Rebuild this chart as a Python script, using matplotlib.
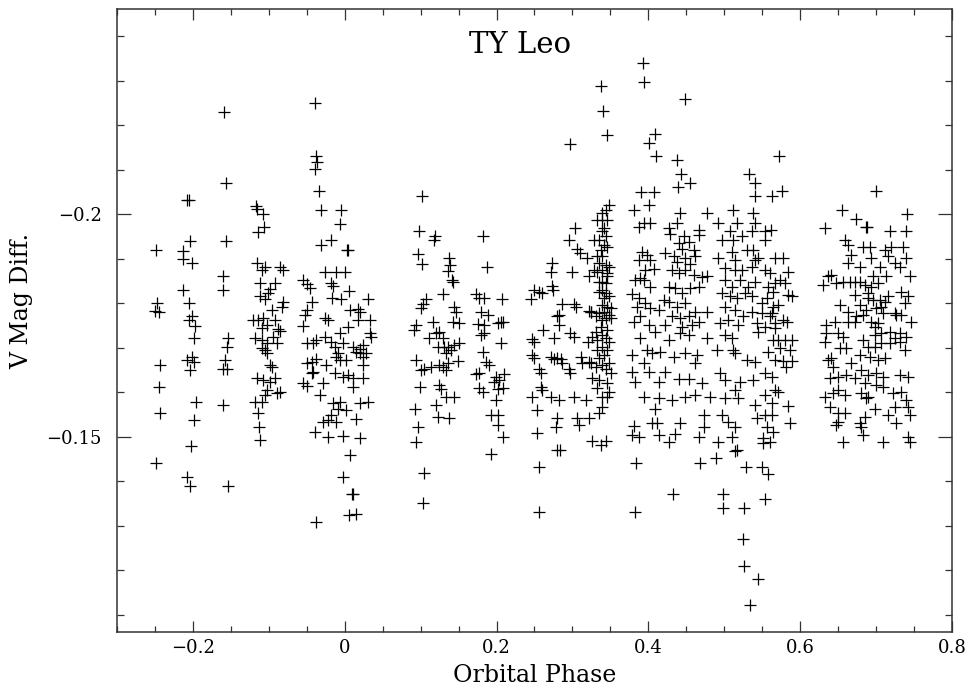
"""TY Leo light curve: V magnitude difference against orbital phase."""

import numpy as np
import matplotlib
matplotlib.use("Agg")
import matplotlib.pyplot as plt
from matplotlib.ticker import FixedLocator, MultipleLocator, FuncFormatter

# (phase, V mag diff), grouped by phase chunk
grp_m25 = [
    (-0.2486, -0.1920), (-0.2472, -0.1801), (-0.2495, -0.1783), (-0.2451, -0.1779),
    (-0.2429, -0.1661), (-0.2451, -0.1611), (-0.2438, -0.1552), (-0.2486, -0.1440),
]
grp_m21 = [
    (-0.2078, -0.2031), (-0.2058, -0.2031), (-0.2035, -0.1940), (-0.2131, -0.1918),
    (-0.2124, -0.1899), (-0.2013, -0.1890), (-0.2124, -0.1830), (-0.2058, -0.1801),
    (-0.2013, -0.1770), (-0.2058, -0.1761), (-0.1970, -0.1749), (-0.1992, -0.1721),
    (-0.2078, -0.1672), (-0.2013, -0.1678), (-0.1992, -0.1668), (-0.2044, -0.1650),
    (-0.1956, -0.1578), (-0.1983, -0.1537), (-0.2026, -0.1479), (-0.2078, -0.1410),
    (-0.2044, -0.1389),
]
grp_m16 = [
    (-0.1585, -0.2230), (-0.1566, -0.2070), (-0.1562, -0.1940), (-0.1598, -0.1861),
    (-0.1598, -0.1830), (-0.1532, -0.1721), (-0.1553, -0.1702), (-0.1576, -0.1672),
    (-0.1598, -0.1651), (-0.1553, -0.1651), (-0.1606, -0.1571), (-0.1532, -0.1389),
]
grp_m10 = [
    (-0.1173, -0.2019), (-0.1152, -0.2011), (-0.1073, -0.2000), (-0.1064, -0.1972),
    (-0.1138, -0.1959), (-0.1159, -0.1891), (-0.1050, -0.1881), (-0.1094, -0.1875),
    (-0.0853, -0.1882), (-0.0810, -0.1875), (-0.1116, -0.1845), (-0.0919, -0.1846),
    (-0.0985, -0.1831), (-0.1007, -0.1822), (-0.1116, -0.1815), (-0.1050, -0.1809),
    (-0.0810, -0.1803), (-0.0831, -0.1792), (-0.0962, -0.1785), (-0.1204, -0.1761),
    (-0.1138, -0.1762), (-0.1073, -0.1766), (-0.1028, -0.1751), (-0.1094, -0.1743),
    (-0.0919, -0.1762), (-0.0876, -0.1741), (-0.0853, -0.1738), (-0.1182, -0.1721),
    (-0.1094, -0.1717), (-0.1028, -0.1710), (-0.0941, -0.1725), (-0.0897, -0.1710),
    (-0.1094, -0.1699), (-0.1050, -0.1695), (-0.1028, -0.1687), (-0.0985, -0.1661),
    (-0.0962, -0.1657), (-0.1159, -0.1631), (-0.1073, -0.1627), (-0.0985, -0.1623),
    (-0.0919, -0.1631), (-0.1028, -0.1605), (-0.1050, -0.1593), (-0.0897, -0.1597),
    (-0.0853, -0.1601), (-0.1182, -0.1578), (-0.1094, -0.1578), (-0.1138, -0.1552),
    (-0.1125, -0.1522), (-0.1116, -0.1492),
]
grp_00 = [
    (-0.0394, -0.2250), (-0.0372, -0.2131), (-0.0364, -0.2118), (-0.0385, -0.2101),
    (-0.0341, -0.2051), (-0.0319, -0.2010), (-0.0043, -0.2010), (-0.0066, -0.1978),
    (-0.0306, -0.1931), (-0.0175, -0.1941), (0.0030, -0.1920), (0.0049, -0.1920),
    (-0.0263, -0.1871), (-0.0109, -0.1871), (0.0000, -0.1871), (-0.0175, -0.1846),
    (-0.0154, -0.1839), (0.0057, -0.1828), (-0.0548, -0.1852), (-0.0503, -0.1843),
    (-0.0460, -0.1834), (-0.0166, -0.1811), (-0.0043, -0.1809), (0.0306, -0.1810),
    (-0.0437, -0.1803), (-0.0503, -0.1785), (-0.0525, -0.1773), (-0.0219, -0.1762),
    (-0.0263, -0.1766), (0.0066, -0.1785), (0.0175, -0.1786), (0.0197, -0.1781),
    (-0.0548, -0.1749), (0.0043, -0.1747), (-0.0066, -0.1732), (0.0175, -0.1762),
    (0.0328, -0.1762), (-0.0503, -0.1711), (-0.0416, -0.1710), (-0.0372, -0.1717),
    (-0.0263, -0.1725), (-0.0175, -0.1713), (-0.0131, -0.1702), (-0.0088, -0.1687),
    (-0.0022, -0.1710), (0.0109, -0.1702), (0.0153, -0.1691), (0.0197, -0.1696),
    (0.0241, -0.1706), (0.0328, -0.1732), (0.0350, -0.1725), (-0.0503, -0.1665),
    (-0.0437, -0.1668), (-0.0372, -0.1674), (-0.0241, -0.1661), (-0.0109, -0.1680),
    (-0.0066, -0.1672), (0.0022, -0.1672), (0.0197, -0.1687), (0.0241, -0.1680),
    (0.0284, -0.1687), (0.0241, -0.1661), (-0.0437, -0.1642), (-0.0416, -0.1646),
    (-0.0131, -0.1642), (0.0043, -0.1638), (0.0109, -0.1631), (0.0241, -0.1631),
    (-0.0022, -0.1635), (-0.0548, -0.1620), (-0.0503, -0.1614), (-0.0285, -0.1620),
    (0.0109, -0.1612), (-0.0328, -0.1593), (-0.0154, -0.1575), (-0.0066, -0.1578),
    (-0.0088, -0.1563), (0.0022, -0.1560), (0.0197, -0.1575), (0.0306, -0.1578),
    (-0.0175, -0.1548), (-0.0219, -0.1537), (-0.0285, -0.1533), (-0.0109, -0.1533),
    (0.0153, -0.1539), (-0.0385, -0.1511), (-0.0219, -0.1500), (-0.0022, -0.1501),
    (0.0197, -0.1496), (0.0074, -0.1458), (-0.0022, -0.1410), (0.0096, -0.1371),
    (0.0114, -0.1371), (0.0057, -0.1323), (0.0144, -0.1327), (-0.0372, -0.1308),
]
grp_12 = [
    (0.1020, -0.2040), (0.0985, -0.1961), (0.1195, -0.1950), (0.1182, -0.1941),
    (0.0963, -0.1911), (0.1015, -0.1888), (0.1379, -0.1901), (0.1388, -0.1886),
    (0.1356, -0.1873), (0.1409, -0.1852), (0.1422, -0.1848), (0.1291, -0.1821),
    (0.1073, -0.1809), (0.1028, -0.1798), (0.1007, -0.1788), (0.1444, -0.1792),
    (0.1467, -0.1781), (0.1510, -0.1755), (0.1422, -0.1758), (0.1159, -0.1758),
    (0.0941, -0.1751), (0.0919, -0.1740), (0.1247, -0.1736), (0.1204, -0.1732),
    (0.1116, -0.1721), (0.1291, -0.1721), (0.1225, -0.1702), (0.1313, -0.1702),
    (0.1356, -0.1702), (0.1444, -0.1706), (0.1510, -0.1710), (0.1401, -0.1695),
    (0.1335, -0.1687), (0.0941, -0.1672), (0.1007, -0.1650), (0.1050, -0.1651),
    (0.1138, -0.1657), (0.1247, -0.1661), (0.1291, -0.1657), (0.1356, -0.1665),
    (0.1488, -0.1671), (0.1335, -0.1650), (0.0994, -0.1611), (0.1247, -0.1616),
    (0.1270, -0.1606), (0.1335, -0.1590), (0.1444, -0.1590), (0.0932, -0.1561),
    (0.1204, -0.1571), (0.1225, -0.1543), (0.1379, -0.1541), (0.0963, -0.1521),
    (0.0941, -0.1488), (0.1050, -0.1419), (0.1037, -0.1350),
]
grp_19 = [
    (0.1816, -0.1950), (0.1873, -0.1881), (0.1729, -0.1821), (0.1773, -0.1811),
    (0.1838, -0.1811), (0.2071, -0.1809), (0.1795, -0.1779), (0.1882, -0.1773),
    (0.1750, -0.1753), (0.1838, -0.1751), (0.2013, -0.1755), (0.2057, -0.1758),
    (0.2079, -0.1758), (0.1795, -0.1728), (0.1838, -0.1732), (0.2057, -0.1710),
    (0.1816, -0.1691), (0.1860, -0.1668), (0.1904, -0.1661), (0.1729, -0.1641),
    (0.1773, -0.1642), (0.1992, -0.1635), (0.2101, -0.1641), (0.1970, -0.1623),
    (0.2035, -0.1627), (0.1773, -0.1609), (0.1816, -0.1601), (0.2013, -0.1606),
    (0.2079, -0.1609), (0.1992, -0.1582), (0.1926, -0.1548), (0.2013, -0.1548),
    (0.2013, -0.1526), (0.2079, -0.1500), (0.1926, -0.1460),
]
grp_29 = [
    (0.2967, -0.2158), (0.3029, -0.1968), (0.2954, -0.1941), (0.3063, -0.1921),
    (0.3095, -0.1912), (0.3195, -0.1901), (0.2735, -0.1891), (0.2722, -0.1871),
    (0.2990, -0.1871), (0.3217, -0.1861), (0.2735, -0.1839), (0.2748, -0.1830),
    (0.2495, -0.1830), (0.2560, -0.1826), (0.2604, -0.1822), (0.2451, -0.1809),
    (0.2866, -0.1798), (0.3020, -0.1798), (0.3042, -0.1792), (0.2823, -0.1773),
    (0.2801, -0.1770), (0.3217, -0.1783), (0.3239, -0.1779), (0.2823, -0.1751),
    (0.2613, -0.1740), (0.2973, -0.1732), (0.3020, -0.1725), (0.2473, -0.1719),
    (0.2495, -0.1713), (0.2757, -0.1721), (0.3208, -0.1713), (0.2473, -0.1683),
    (0.2495, -0.1676), (0.2714, -0.1680), (0.2757, -0.1674), (0.2801, -0.1676),
    (0.2845, -0.1674), (0.2866, -0.1665), (0.2954, -0.1653), (0.2973, -0.1642),
    (0.3108, -0.1680), (0.3129, -0.1666), (0.3217, -0.1668), (0.3239, -0.1665),
    (0.2560, -0.1651), (0.2583, -0.1644), (0.3260, -0.1631), (0.2583, -0.1611),
    (0.2473, -0.1590), (0.2604, -0.1605), (0.2714, -0.1590), (0.2823, -0.1582),
    (0.3020, -0.1590), (0.3174, -0.1582), (0.2538, -0.1560), (0.2801, -0.1541),
    (0.3063, -0.1541), (0.3086, -0.1526), (0.3217, -0.1541), (0.2538, -0.1509),
    (0.2780, -0.1521), (0.3260, -0.1491), (0.3370, -0.1481), (0.3436, -0.1491),
    (0.2801, -0.1470), (0.2832, -0.1470), (0.2560, -0.1431), (0.2560, -0.1330),
]
grp_34 = [
    (0.3370, -0.2289), (0.3401, -0.2231), (0.3458, -0.2178), (0.3480, -0.2021),
    (0.3436, -0.2010), (0.3392, -0.2002), (0.3458, -0.1987), (0.3392, -0.1987),
    (0.3326, -0.1987), (0.3414, -0.1968), (0.3392, -0.1961), (0.3436, -0.1951),
    (0.3283, -0.1941), (0.3348, -0.1941), (0.3414, -0.1931), (0.3458, -0.1927),
    (0.3370, -0.1920), (0.3326, -0.1905), (0.3392, -0.1905), (0.3348, -0.1890),
    (0.3436, -0.1886), (0.3480, -0.1882), (0.3392, -0.1875), (0.3458, -0.1867),
    (0.3326, -0.1871), (0.3283, -0.1875), (0.3458, -0.1860), (0.3392, -0.1848),
    (0.3436, -0.1845), (0.3348, -0.1848), (0.3392, -0.1830), (0.3436, -0.1822),
    (0.3348, -0.1826), (0.3414, -0.1811), (0.3480, -0.1815), (0.3392, -0.1796),
    (0.3458, -0.1792), (0.3502, -0.1788), (0.3414, -0.1781), (0.3480, -0.1773),
    (0.3348, -0.1777), (0.3304, -0.1770), (0.3436, -0.1766), (0.3392, -0.1762),
    (0.3502, -0.1766), (0.3239, -0.1779), (0.3370, -0.1747), (0.3458, -0.1740),
    (0.3304, -0.1736), (0.3392, -0.1728), (0.3436, -0.1721), (0.3480, -0.1713),
    (0.3326, -0.1717), (0.3260, -0.1725), (0.3392, -0.1702), (0.3458, -0.1695),
    (0.3326, -0.1695), (0.3414, -0.1683), (0.3348, -0.1676), (0.3480, -0.1665),
    (0.3392, -0.1661), (0.3304, -0.1657), (0.3436, -0.1653), (0.3502, -0.1642),
    (0.3458, -0.1620), (0.3348, -0.1627), (0.3326, -0.1609), (0.3480, -0.1601),
    (0.3392, -0.1590), (0.3458, -0.1590), (0.3392, -0.1567), (0.3348, -0.1552),
]
grp_47 = [
    (0.3926, -0.2340), (0.3939, -0.2298), (0.4477, -0.2259), (0.4093, -0.2181),
    (0.4005, -0.2160), (0.4101, -0.2130), (0.4377, -0.2121), (0.4434, -0.2091),
    (0.4552, -0.2070), (0.4389, -0.2062), (0.3908, -0.2049), (0.4079, -0.2049),
    (0.4014, -0.2021), (0.3808, -0.2010), (0.5331, -0.2091), (0.5406, -0.2070),
    (0.5406, -0.2041), (0.4421, -0.2002), (0.4770, -0.2002), (0.5121, -0.2010),
    (0.5383, -0.2002), (0.4915, -0.1981), (0.5164, -0.1981), (0.3873, -0.1971),
    (0.3939, -0.1980), (0.4027, -0.1980), (0.4267, -0.1968), (0.4377, -0.1981),
    (0.4661, -0.1965), (0.5406, -0.1980), (0.5537, -0.1961), (0.5361, -0.1961),
    (0.5077, -0.1961),
    (0.4290, -0.1956), (0.4464, -0.1950), (0.4661, -0.1953), (0.4530, -0.1938),
    (0.4399, -0.1935), (0.4443, -0.1921), (0.4224, -0.1912), (0.4596, -0.1920),
    (0.4333, -0.1905), (0.4486, -0.1901), (0.4377, -0.1893), (0.4618, -0.1905),
    (0.4552, -0.1888), (0.3917, -0.1916), (0.3982, -0.1908), (0.3873, -0.1897),
    (0.4027, -0.1897), (0.3961, -0.1875), (0.4070, -0.1876), (0.3895, -0.1856),
    (0.3830, -0.1852), (0.3939, -0.1852), (0.4027, -0.1837), (0.3786, -0.1821),
    (0.3873, -0.1811), (0.3961, -0.1800), (0.3851, -0.1792), (0.4027, -0.1788),
    (0.3808, -0.1758), (0.3895, -0.1770), (0.4005, -0.1751),
    (0.4311, -0.1875), (0.4399, -0.1867), (0.4486, -0.1875), (0.4596, -0.1863),
    (0.4705, -0.1858), (0.4770, -0.1860), (0.4267, -0.1837), (0.4355, -0.1834),
    (0.4443, -0.1822), (0.4552, -0.1834), (0.4661, -0.1837), (0.4202, -0.1807),
    (0.4267, -0.1803), (0.4377, -0.1792), (0.4486, -0.1800), (0.4618, -0.1781),
    (0.4770, -0.1781), (0.4136, -0.1785), (0.4311, -0.1770), (0.4421, -0.1766),
    (0.4530, -0.1770), (0.4661, -0.1758), (0.4224, -0.1751), (0.4443, -0.1747),
    (0.4574, -0.1751),
    (0.4967, -0.1942), (0.5121, -0.1942), (0.5230, -0.1950), (0.5296, -0.1920),
    (0.5383, -0.1920), (0.5537, -0.1942), (0.4924, -0.1901), (0.5099, -0.1916),
    (0.5143, -0.1897), (0.5012, -0.1878), (0.5143, -0.1875), (0.5230, -0.1875),
    (0.5406, -0.1897), (0.5449, -0.1901), (0.5668, -0.1901), (0.5361, -0.1882),
    (0.5537, -0.1875), (0.5602, -0.1867), (0.5012, -0.1852), (0.5099, -0.1837),
    (0.5209, -0.1852), (0.5318, -0.1837), (0.5406, -0.1848), (0.5580, -0.1837),
    (0.5668, -0.1845), (0.4967, -0.1822), (0.5077, -0.1815), (0.5164, -0.1811),
    (0.5274, -0.1822), (0.5361, -0.1815), (0.5492, -0.1800), (0.5558, -0.1811),
    (0.5646, -0.1792), (0.5012, -0.1792), (0.5143, -0.1785), (0.5252, -0.1770),
    (0.5361, -0.1781), (0.5492, -0.1777), (0.5602, -0.1770), (0.4945, -0.1755),
    (0.5055, -0.1762), (0.5186, -0.1751), (0.5427, -0.1755), (0.5537, -0.1747),
    (0.5668, -0.1755),
    (0.3895, -0.1721), (0.4093, -0.1736), (0.4267, -0.1717), (0.4421, -0.1732),
    (0.4530, -0.1728), (0.4770, -0.1721), (0.5012, -0.1728), (0.5099, -0.1721),
    (0.5449, -0.1736), (0.5646, -0.1717), (0.3786, -0.1683), (0.3982, -0.1695),
    (0.4048, -0.1687), (0.4158, -0.1691), (0.4333, -0.1680), (0.4486, -0.1687),
    (0.4640, -0.1683), (0.4902, -0.1695), (0.5121, -0.1695), (0.5143, -0.1687),
    (0.5296, -0.1672), (0.5406, -0.1668), (0.5580, -0.1691), (0.5668, -0.1672),
    (0.4618, -0.1665), (0.3939, -0.1665), (0.3786, -0.1646), (0.4005, -0.1646),
    (0.4224, -0.1646), (0.4399, -0.1629), (0.4530, -0.1629), (0.4705, -0.1620),
    (0.4945, -0.1642), (0.5012, -0.1627), (0.5209, -0.1623), (0.5383, -0.1627),
    (0.5537, -0.1642), (0.5668, -0.1605), (0.3830, -0.1623), (0.4136, -0.1623),
    (0.3939, -0.1590), (0.4136, -0.1586), (0.4311, -0.1582), (0.4486, -0.1588),
    (0.4618, -0.1593), (0.4815, -0.1590), (0.5012, -0.1586), (0.5143, -0.1605),
    (0.5186, -0.1586), (0.5406, -0.1571), (0.5537, -0.1593), (0.4093, -0.1563),
    (0.4727, -0.1548), (0.4967, -0.1548), (0.5055, -0.1533), (0.5427, -0.1541),
    (0.5537, -0.1548), (0.5624, -0.1548), (0.3808, -0.1524), (0.4048, -0.1530),
    (0.4114, -0.1530), (0.4421, -0.1530), (0.4727, -0.1521), (0.5143, -0.1521),
    (0.5558, -0.1521), (0.5646, -0.1511), (0.3786, -0.1503), (0.4136, -0.1503),
    (0.4355, -0.1507), (0.4661, -0.1500), (0.4924, -0.1488), (0.5099, -0.1500),
    (0.5515, -0.1496), (0.3873, -0.1500), (0.4267, -0.1488), (0.5164, -0.1470),
    (0.5143, -0.1468), (0.5515, -0.1485), (0.3838, -0.1440), (0.4674, -0.1440),
    (0.4894, -0.1451), (0.5288, -0.1431), (0.5492, -0.1432), (0.5580, -0.1417),
    (0.4320, -0.1371), (0.4989, -0.1371), (0.5537, -0.1359), (0.4980, -0.1340),
    (0.5261, -0.1340), (0.3821, -0.1330), (0.5243, -0.1269), (0.5265, -0.1209),
    (0.5440, -0.1181), (0.5340, -0.1121),
]
grp_58 = [
    (0.5725, -0.2131), (0.5756, -0.2051), (0.5633, -0.2040), (0.5616, -0.1965),
    (0.5777, -0.1901), (0.5843, -0.1871), (0.5734, -0.1852), (0.5799, -0.1845),
    (0.5646, -0.1826), (0.5843, -0.1818), (0.5887, -0.1815), (0.5712, -0.1796),
    (0.5624, -0.1777), (0.5777, -0.1762), (0.5821, -0.1758), (0.5668, -0.1743),
    (0.5712, -0.1717), (0.5799, -0.1717), (0.5887, -0.1717), (0.5865, -0.1695),
    (0.5734, -0.1699), (0.5777, -0.1671), (0.5887, -0.1671), (0.5808, -0.1657),
    (0.5624, -0.1635), (0.5712, -0.1601), (0.5624, -0.1575), (0.5843, -0.1569),
    (0.5865, -0.1530), (0.5602, -0.1488),
]
grp_69 = [
    (0.7002, -0.2051), (0.6552, -0.2010), (0.6740, -0.1989), (0.6871, -0.1971),
    (0.6884, -0.1971), (0.7410, -0.2001), (0.6325, -0.1968), (0.7178, -0.1961),
    (0.7396, -0.1961), (0.6587, -0.1942), (0.6631, -0.1931), (0.6828, -0.1927),
    (0.6915, -0.1927), (0.7112, -0.1920), (0.7200, -0.1927), (0.7353, -0.1927),
    (0.6674, -0.1908), (0.6631, -0.1890), (0.6937, -0.1901), (0.7156, -0.1905),
    (0.7244, -0.1890), (0.7309, -0.1882), (0.7396, -0.1901), (0.6784, -0.1882),
    (0.7047, -0.1882), (0.6368, -0.1860), (0.6412, -0.1863), (0.6303, -0.1841),
    (0.6478, -0.1845), (0.6565, -0.1848), (0.6653, -0.1848), (0.6718, -0.1848),
    (0.6784, -0.1848), (0.6850, -0.1841), (0.6937, -0.1837), (0.7025, -0.1845),
    (0.6959, -0.1860), (0.7134, -0.1860), (0.7331, -0.1826), (0.7441, -0.1860),
    (0.7419, -0.1815), (0.6718, -0.1818), (0.6893, -0.1822), (0.6784, -0.1796),
    (0.6893, -0.1811), (0.6959, -0.1807), (0.7047, -0.1807), (0.7112, -0.1803),
    (0.7156, -0.1815), (0.6871, -0.1785), (0.7002, -0.1788), (0.7068, -0.1792),
    (0.6521, -0.1796), (0.6631, -0.1781), (0.6740, -0.1770), (0.6828, -0.1773),
    (0.7090, -0.1777), (0.7244, -0.1777), (0.7375, -0.1800), (0.6631, -0.1758),
    (0.6718, -0.1758), (0.6937, -0.1758), (0.6981, -0.1747), (0.7025, -0.1755),
    (0.7265, -0.1773), (0.7331, -0.1773), (0.7462, -0.1758), (0.6346, -0.1751),
    (0.6456, -0.1758), (0.6346, -0.1732), (0.6500, -0.1732), (0.6565, -0.1725),
    (0.6325, -0.1713), (0.6522, -0.1699), (0.6609, -0.1699), (0.6828, -0.1717),
    (0.6981, -0.1728), (0.7068, -0.1732), (0.7178, -0.1736), (0.7244, -0.1721),
    (0.7309, -0.1732), (0.7396, -0.1725), (0.6893, -0.1702), (0.6981, -0.1702),
    (0.7068, -0.1710), (0.7178, -0.1710), (0.7309, -0.1713), (0.7375, -0.1695),
    (0.6784, -0.1683), (0.6915, -0.1680), (0.7025, -0.1672), (0.7112, -0.1676),
    (0.6412, -0.1676), (0.6368, -0.1672), (0.6434, -0.1657), (0.6390, -0.1631),
    (0.6500, -0.1635), (0.6609, -0.1638), (0.6718, -0.1631), (0.6806, -0.1650),
    (0.6893, -0.1638), (0.7002, -0.1642), (0.7090, -0.1635), (0.7309, -0.1638),
    (0.7419, -0.1635), (0.6674, -0.1665), (0.6850, -0.1620), (0.7002, -0.1616),
    (0.7090, -0.1612), (0.6325, -0.1590), (0.6434, -0.1597), (0.6500, -0.1605),
    (0.6587, -0.1593), (0.6806, -0.1597), (0.6893, -0.1590), (0.7221, -0.1597),
    (0.7331, -0.1601), (0.7396, -0.1582), (0.6390, -0.1567), (0.6500, -0.1552),
    (0.6587, -0.1552), (0.6871, -0.1586), (0.6981, -0.1563), (0.7156, -0.1548),
    (0.7244, -0.1567), (0.7419, -0.1567), (0.7441, -0.1548), (0.6500, -0.1533),
    (0.6478, -0.1526), (0.6784, -0.1530), (0.6806, -0.1522), (0.6850, -0.1545),
    (0.7265, -0.1530), (0.6565, -0.1488), (0.6828, -0.1503), (0.7090, -0.1488),
    (0.7419, -0.1500), (0.7441, -0.1488),
]

groups = [grp_m25, grp_m21, grp_m16, grp_m10, grp_00, grp_12, grp_19,
          grp_29, grp_34, grp_47, grp_58, grp_69]

x_ticks = [-0.2, 0.0, 0.2, 0.4, 0.6, 0.8]
y_ticks = [-0.2, -0.15]
title = "TY Leo"
x_label = "Orbital Phase"
y_label = "V Mag Diff."


def fmt_tick(v, _pos):
    s = f"{v:g}"
    return s.replace("-", "\u2212")


pts = np.array([p for g in groups for p in g])
phase, vmag = pts[:, 0], pts[:, 1]

plt.rcParams["font.family"] = ["DejaVu Serif"]

fig = plt.figure(figsize=(9.71, 6.97), dpi=100)
ax = fig.add_axes([0.1205, 0.0933, 0.8599, 0.8938])

ax.plot(phase, vmag, linestyle="none", marker="+", markersize=9,
        markeredgewidth=0.9, color="black")

ax.set_xlim(-0.3, 0.8)
ax.set_ylim(-0.1061, -0.2461)

ax.xaxis.set_major_locator(FixedLocator(x_ticks))
ax.xaxis.set_minor_locator(MultipleLocator(0.05))
ax.yaxis.set_major_locator(FixedLocator(y_ticks))
ax.yaxis.set_minor_locator(MultipleLocator(0.01))
ax.xaxis.set_major_formatter(FuncFormatter(fmt_tick))
ax.yaxis.set_major_formatter(FuncFormatter(fmt_tick))

ax.tick_params(which="both", direction="in", top=True, right=True,
               width=0.9, color="#333333", labelsize=13)
ax.tick_params(axis="x", which="major", length=8, pad=5)
ax.tick_params(axis="x", which="minor", length=4.3)
ax.tick_params(axis="y", which="major", length=10, pad=11)
ax.tick_params(axis="y", which="minor", length=5)

for sp in ax.spines.values():
    sp.set_linewidth(1.1)
    sp.set_color("#333333")

ax.set_xlabel(x_label, fontsize=17)
ax.set_ylabel(y_label, fontsize=17)
ax.xaxis.set_label_coords(0.5, -0.052)
ax.yaxis.set_label_coords(-0.10, 0.531)

ax.text(0.483, 0.929, title, transform=ax.transAxes, ha="center",
        va="baseline", fontsize=21)

fig.savefig("out.png", dpi=100)
